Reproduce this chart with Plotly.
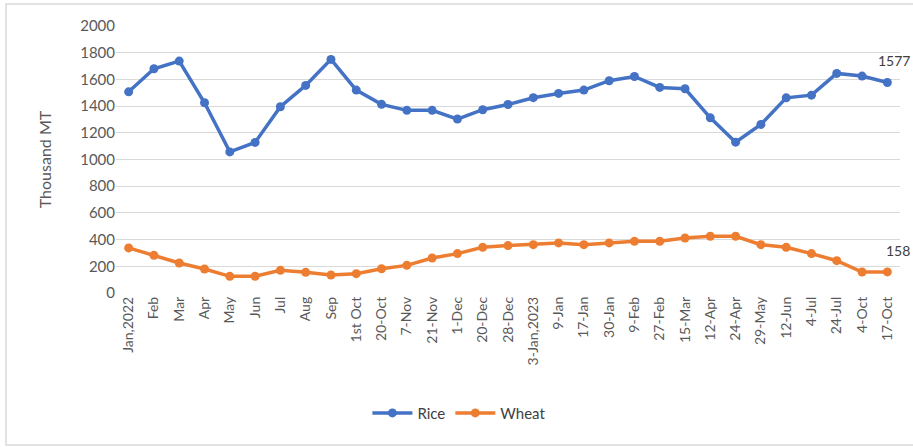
import plotly.graph_objects as go

categories = ["Jan,2022", "Feb", "Mar", "Apr", "May", "Jun", "Jul", "Aug", "Sep",
              "1st Oct", "20-Oct", "7-Nov", "21-Nov", "1-Dec", "20-Dec", "28-Dec",
              "3-Jan,2023", "9-Jan", "17-Jan", "30-Jan", "9-Feb", "27-Feb", "15-Mar",
              "12-Apr", "24-Apr", "29-May", "12-Jun", "4-Jul", "24-Jul", "4-Oct", "17-Oct"]

rice = [1507, 1680, 1737, 1425, 1057, 1128, 1395, 1555, 1750, 1520, 1413, 1368, 1368,
        1303, 1373, 1412, 1463, 1495, 1520, 1590, 1622, 1540, 1530, 1312, 1130, 1263,
        1462, 1482, 1645, 1625, 1577]

wheat = [338, 282, 225, 180, 125, 125, 170, 155, 135, 145, 182, 207, 262, 295, 342,
         355, 362, 375, 362, 375, 387, 387, 412, 425, 425, 362, 342, 295, 242, 157, 158]

y_ticks = [0, 200, 400, 600, 800, 1000, 1200, 1400, 1600, 1800, 2000]

FONT = "Lato"
fig = go.Figure()
fig.add_trace(go.Scatter(x=categories, y=rice, name="Rice", mode="lines+markers",
                         line=dict(color="#4472C4", width=3.5),
                         marker=dict(size=9, color="#4472C4"), cliponaxis=False))
fig.add_trace(go.Scatter(x=categories, y=wheat, name="Wheat", mode="lines+markers",
                         line=dict(color="#ED7D31", width=3.5),
                         marker=dict(size=9, color="#ED7D31"), cliponaxis=False))

fig.add_annotation(x=categories[-1], y=rice[-1], text=str(rice[-1]), showarrow=False,
                   xshift=7, yshift=22, font=dict(family=FONT, size=14, color="#404040"))
fig.add_annotation(x=categories[-1], y=wheat[-1], text=str(wheat[-1]), showarrow=False,
                   xshift=11, yshift=21, font=dict(family=FONT, size=14, color="#404040"))

fig.add_shape(type="rect", xref="paper", yref="paper", x0=-0.1403, x1=1.03, y0=-0.569,
              y1=1.0824, line=dict(color="#D9D9D9", width=1.5), layer="below")

fig.update_layout(
    width=913, height=447,
    margin=dict(l=116, r=13, t=26, b=154),
    paper_bgcolor="white", plot_bgcolor="white",
    font=dict(family=FONT, size=14, color="#595959"),
    showlegend=True,
    legend=dict(orientation="h", x=0.438, xanchor="center", y=-0.45, yanchor="middle",
                font=dict(family=FONT, size=15, color="#404040"), itemwidth=40),
    xaxis=dict(type="category", range=[-0.5, len(categories) - 0.5], tickangle=-90,
               showgrid=False, showline=False, ticks="", tickfont=dict(size=14, color="#595959")),
    yaxis=dict(range=[0, 2000], tickvals=y_ticks, showgrid=True, gridcolor="#D9D9D9",
               gridwidth=1, zeroline=False, showline=False, ticks="",
               tickfont=dict(size=15, color="#595959"),
               title=dict(text="Thousand MT", font=dict(size=16, color="#595959"), standoff=24)),
)

fig.write_html("out.html", config={"displayModeBar": False},
               post_script="document.body.style.margin='0';document.body.style.overflow='hidden';")
